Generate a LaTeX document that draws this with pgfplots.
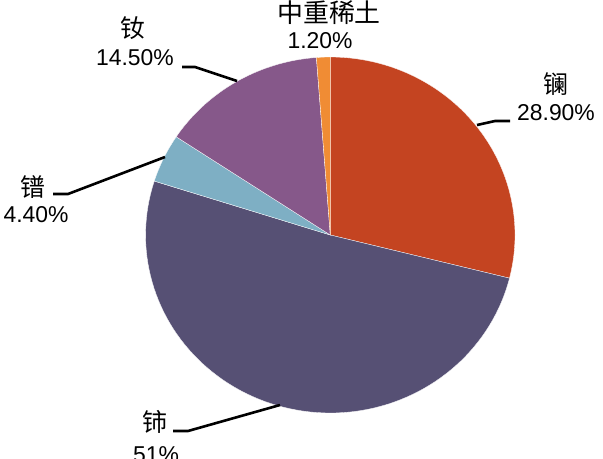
\documentclass[border=0pt]{standalone}
\usepackage{pgfplots}
\pgfplotsset{compat=1.18}
\usepackage{fontspec}
\setmainfont{Liberation Sans}
\newfontfamily\cjk{Noto Sans CJK SC}

\definecolor{cLa}{RGB}{196,68,33}
\definecolor{cCe}{RGB}{86,80,116}
\definecolor{cPr}{RGB}{126,175,196}
\definecolor{cNd}{RGB}{134,88,138}
\definecolor{cHR}{RGB}{240,140,52}

\begin{document}
\begin{tikzpicture}
  % shares in percent, clockwise from 12 o'clock
  \def\vLa{28.9}
  \def\vCe{51}
  \def\vPr{4.4}
  \def\vNd{14.5}
  \def\vHR{1.2}
  \pgfmathsetmacro\aA{3.6*\vLa}
  \pgfmathsetmacro\aB{\aA+3.6*\vCe}
  \pgfmathsetmacro\aC{\aB+3.6*\vPr}
  \pgfmathsetmacro\aD{\aC+3.6*\vNd}
  \pgfmathsetmacro\aE{\aD+3.6*\vHR}
  \def\cx{330.3}\def\cy{235}\def\rx{184.7}\def\ry{178}
  \begin{axis}[
    at={(0,0)}, anchor=south west,
    scale only axis,
    width=603bp, height=459bp,
    xmin=0, xmax=603, ymin=0, ymax=459,
    y dir=reverse,
    hide axis,
    clip=false,
    every axis plot/.append style={samples=90, variable=\t, draw=white, line width=0.3pt},
  ]
    \addplot[fill=cLa, domain=0:\aA]      ({\cx+\rx*sin(\t)}, {\cy-\ry*cos(\t)}) -- (\cx,\cy) -- cycle;
    \addplot[fill=cCe, domain=\aA:\aB]    ({\cx+\rx*sin(\t)}, {\cy-\ry*cos(\t)}) -- (\cx,\cy) -- cycle;
    \addplot[fill=cPr, domain=\aB:\aC]    ({\cx+\rx*sin(\t)}, {\cy-\ry*cos(\t)}) -- (\cx,\cy) -- cycle;
    \addplot[fill=cNd, domain=\aC:\aD]    ({\cx+\rx*sin(\t)}, {\cy-\ry*cos(\t)}) -- (\cx,\cy) -- cycle;
    \addplot[fill=cHR, domain=\aD:\aE]    ({\cx+\rx*sin(\t)}, {\cy-\ry*cos(\t)}) -- (\cx,\cy) -- cycle;

    % leader lines
    \draw[line width=2.6bp] (477,125) -- (495,121) -- (510,121);
    \draw[line width=2.6bp] (182,67) -- (195,67) -- (237,81);
    \draw[line width=2.6bp] (53,194) -- (68,194) -- (165,157);
    \draw[line width=2.6bp] (173,431) -- (188,431) -- (280,405);

    % labels
    \tikzset{lab/.style={inner sep=0pt, font=\fontsize{23}{26}\selectfont},
             zh/.style={inner sep=0pt, font=\fontsize{25}{28}\selectfont\cjk}}
    \node[zh, anchor=center]  at (556,84)  {镧};
    \node[lab, anchor=base]   at (556,120) {28.90\%};
    \node[zh, anchor=north, font=\fontsize{26}{30}\selectfont\cjk] at (329,1) {中重稀土};
    \node[lab, anchor=base]   at (320,48)  {1.20\%};
    \node[zh, anchor=center]  at (133,28)  {钕};
    \node[lab, anchor=base]   at (135,65)  {14.50\%};
    \node[zh, anchor=center]  at (33,187)  {镨};
    \node[lab, anchor=base]   at (36,222)  {4.40\%};
    \node[zh, anchor=center]  at (155,422) {铈};
    \node[lab, anchor=base]   at (156,462) {51\%};
  \end{axis}
  \pgfresetboundingbox
  \path[use as bounding box] (0,0) rectangle (603bp,459bp);
\end{tikzpicture}
\end{document}
